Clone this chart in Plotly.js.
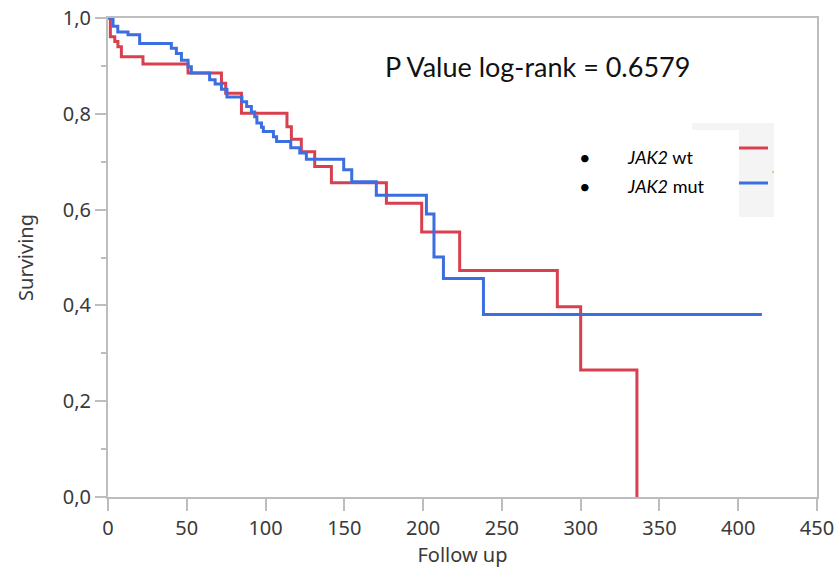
<!DOCTYPE html>
<html>
<head>
<meta charset="utf-8">
<script src="https://cdn.plot.ly/plotly-3.0.1.min.js"></script>
<style>html,body{margin:0;padding:0;background:#fff;}#chart{width:839px;height:573px;}</style>
</head>
<body>
<div id="chart"></div>
<script>
// JAK2 wt (red) Kaplan-Meier steps
const wtTime = [0, 1.5, 4.3, 6.3, 8.5, 22.2, 50.8, 72, 74.7, 84.7, 113.6, 116.4, 122.7, 131.2, 141.8, 176.7, 199.1, 223.2, 285.2, 300, 335.7];
const wtSurv = [1.0, 0.961, 0.951, 0.940, 0.919, 0.904, 0.885, 0.864, 0.843, 0.801, 0.773, 0.747, 0.721, 0.690, 0.656, 0.613, 0.553, 0.473, 0.397, 0.265, 0.0];
// JAK2 mut (blue) Kaplan-Meier steps
const mutTime = [0, 3.2, 6.2, 12.7, 20.1, 40.2, 43.4, 46.6, 50.8, 52.9, 64.5, 68, 72, 75.5, 85, 88, 91, 93.1, 94.5, 97.4, 98.6, 105, 107, 116, 121.7, 125.9, 149.6, 154.7, 170.3, 202.1, 206.9, 212.9, 238.3, 415];
const mutSurv = [1.0, 0.983, 0.971, 0.965, 0.947, 0.937, 0.926, 0.912, 0.898, 0.885, 0.871, 0.862, 0.851, 0.835, 0.825, 0.815, 0.804, 0.794, 0.781, 0.772, 0.763, 0.752, 0.742, 0.729, 0.718, 0.705, 0.683, 0.658, 0.630, 0.591, 0.501, 0.456, 0.381, 0.381];

const xTicks = [0, 50, 100, 150, 200, 250, 300, 350, 400, 450];
const yTicks = [0, 0.2, 0.4, 0.6, 0.8, 1.0];
const seriesNames = ['JAK2 wt', 'JAK2 mut'];
const pText = 'P Value log-rank = 0.6579';

const RED = '#d8404f';
const BLUE = '#3b6fe0';

// pixel -> paper helpers (plot area: x 108..817, y 18..497)
const L = 108, T = 18, W = 709, H = 479;
const px = p => (p - L) / W;
const py = p => (T + H - p) / H;

const traces = [
  {x: wtTime, y: wtSurv, mode: 'lines', line: {shape: 'hv', color: RED, width: 3}, name: seriesNames[0], hoverinfo: 'skip'},
  {x: mutTime, y: mutSurv, mode: 'lines', line: {shape: 'hv', color: BLUE, width: 3}, name: seriesNames[1], hoverinfo: 'skip'}
];

const axisFont = {family: '"Noto Sans", sans-serif', size: 20, color: '#3a3a3a'};

const layout = {
  width: 839, height: 573,
  margin: {l: L, r: 839 - L - W, t: T, b: 573 - T - H, pad: 0},
  paper_bgcolor: '#fff', plot_bgcolor: '#fff',
  showlegend: false,
  separators: ', ',
  font: {family: '"Noto Sans", sans-serif'},
  xaxis: {
    range: [0, 450], tickvals: xTicks, ticktext: xTicks.map(String),
    showgrid: false, zeroline: false, showline: true, linecolor: '#bdbdbd', linewidth: 2, mirror: true,
    ticks: 'outside', ticklen: 12, tickwidth: 2, tickcolor: '#bdbdbd',
    tickfont: axisFont,
    title: {text: 'Follow up', font: axisFont, standoff: 0}
  },
  yaxis: {
    range: [0, 1.0], tickvals: yTicks, tickformat: '.1f',
    showgrid: false, zeroline: false, showline: true, linecolor: '#bdbdbd', linewidth: 2, mirror: true,
    ticks: 'outside', ticklen: 11, tickwidth: 2, tickcolor: '#bdbdbd',
    minor: {dtick: 0.1, ticks: 'outside', ticklen: 5, tickwidth: 2, tickcolor: '#bdbdbd', showgrid: false},
    tickfont: axisFont,
    title: {text: 'Surviving', font: axisFont, standoff: 24}
  },
  shapes: [
    {type: 'rect', xref: 'paper', yref: 'paper', x0: px(692), x1: px(774), y0: py(217), y1: py(123), fillcolor: '#f4f4f4', line: {width: 0}, layer: 'below'},
    {type: 'rect', xref: 'paper', yref: 'paper', x0: px(692), x1: px(739), y0: py(218), y1: py(130), fillcolor: '#ffffff', line: {width: 0}, layer: 'below'},
    {type: 'line', xref: 'paper', yref: 'paper', x0: px(739), x1: px(768), y0: py(148), y1: py(148), line: {color: RED, width: 3}},
    {type: 'line', xref: 'paper', yref: 'paper', x0: px(739), x1: px(768), y0: py(183), y1: py(183), line: {color: BLUE, width: 3}},
    {type: 'circle', xref: 'paper', yref: 'paper', x0: px(772), x1: px(774), y0: py(173), y1: py(171), fillcolor: '#f0b060', line: {width: 0}}
  ],
  annotations: [
    {xref: 'paper', yref: 'paper', x: px(383), y: py(67), xanchor: 'left', yanchor: 'middle', showarrow: false,
     text: pText, font: {family: 'Lato, sans-serif', size: 27, color: '#111'}},
    {xref: 'paper', yref: 'paper', x: px(585), y: py(157), xanchor: 'center', yanchor: 'middle', showarrow: false,
     text: '•', font: {family: 'Lato, sans-serif', size: 20, color: '#000'}},
    {xref: 'paper', yref: 'paper', x: px(585), y: py(186), xanchor: 'center', yanchor: 'middle', showarrow: false,
     text: '•', font: {family: 'Lato, sans-serif', size: 20, color: '#000'}},
    {xref: 'paper', yref: 'paper', x: px(625), y: py(157), xanchor: 'left', yanchor: 'middle', showarrow: false,
     text: '<i>JAK2</i> wt', font: {family: 'Lato, sans-serif', size: 18, color: '#000'}},
    {xref: 'paper', yref: 'paper', x: px(625), y: py(186), xanchor: 'left', yanchor: 'middle', showarrow: false,
     text: '<i>JAK2</i> mut', font: {family: 'Lato, sans-serif', size: 18, color: '#000'}}
  ]
};

Plotly.newPlot('chart', traces, layout, {displayModeBar: false, staticPlot: true});
</script>
</body>
</html>
